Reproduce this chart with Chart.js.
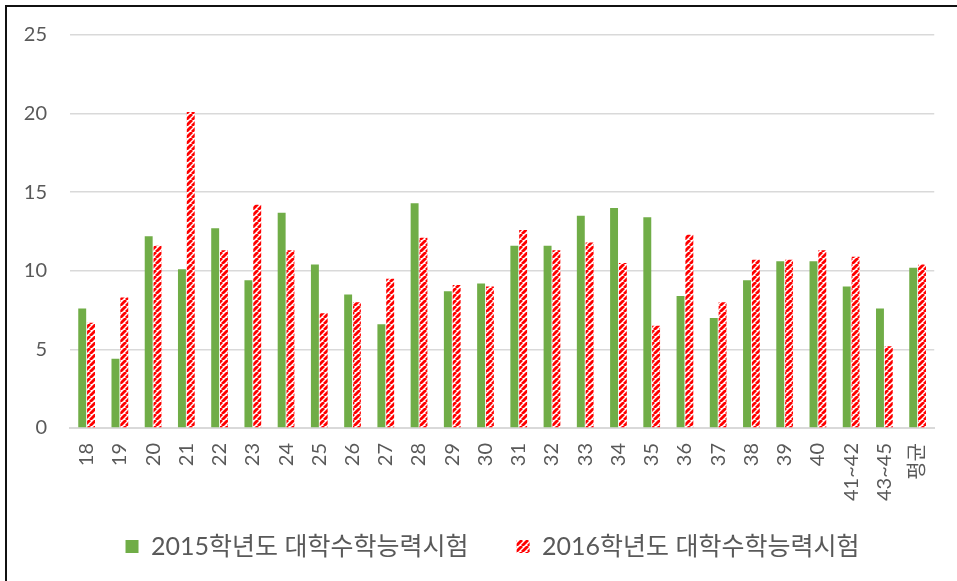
<!DOCTYPE html>
<html>
<head>
<meta charset="utf-8">
<script src="https://cdn.jsdelivr.net/npm/chart.js@4"></script>
<style>
  html, body { margin: 0; padding: 0; background: #fff; overflow: hidden; }
  #wrap { position: relative; width: 957px; height: 581px; }
  #frame { position: absolute; left: 5px; top: 5px; width: 960px; height: 590px;
           border-left: 2px solid #111; border-top: 2px solid #111; }
  #box { position: absolute; left: 0; top: 0; width: 957px; height: 569px; }
</style>
</head>
<body>
<div id="wrap">
  <div id="box"><canvas id="chart"></canvas></div>
  <div id="frame"></div>
</div>
<script>
// 데이터
const categories = ["18","19","20","21","22","23","24","25","26","27","28","29","30","31","32","33","34","35","36","37","38","39","40","41~42","43~45","평균"];
const series2015 = [7.6, 4.4, 12.2, 10.1, 12.7, 9.4, 13.7, 10.4, 8.5, 6.6, 14.3, 8.7, 9.2, 11.6, 11.6, 13.5, 14.0, 13.4, 8.4, 7.0, 9.4, 10.6, 10.6, 9.0, 7.6, 10.2];
const series2016 = [6.7, 8.3, 11.6, 20.1, 11.3, 14.2, 11.3, 7.3, 8.0, 9.5, 12.1, 9.1, 9.0, 12.6, 11.3, 11.8, 10.5, 6.5, 12.3, 8.0, 10.7, 10.7, 11.3, 10.9, 5.2, 10.4];
const label2015 = "2015학년도 대학수학능력시험";
const label2016 = "2016학년도 대학수학능력시험";
const yTicks = [0, 5, 10, 15, 20, 25];

// 빨간 사선 패턴
function makeStripe() {
  const s = 6;
  const c = document.createElement("canvas");
  c.width = s; c.height = s;
  const g = c.getContext("2d");
  g.fillStyle = "#fff";
  g.fillRect(0, 0, s, s);
  g.strokeStyle = "#ff0000";
  g.lineWidth = 2.8;
  [-s, 0, s].forEach(k => {
    g.beginPath();
    g.moveTo(k, s);
    g.lineTo(k + s, 0);
    g.stroke();
  });
  return document.createElement("canvas").getContext("2d").createPattern(c, "repeat");
}

const tickColor = "#595959";
const gridColor = "#d9d9d9";
const tickFont = { family: "Lato, 'Noto Sans CJK KR'", size: 20 };

new Chart(document.getElementById("chart"), {
  type: "bar",
  data: {
    labels: categories,
    datasets: [
      { label: label2015, data: series2015, backgroundColor: "#70ad47", borderWidth: 0 },
      { label: label2016, data: series2016, backgroundColor: makeStripe(), borderWidth: 0 }
    ]
  },
  options: {
    responsive: true,
    maintainAspectRatio: false,
    animation: false,
    layout: { padding: { top: 34, right: 20, left: 0, bottom: 0 } },
    datasets: { bar: { categoryPercentage: 0.53, barPercentage: 0.9 } },
    plugins: {
      tooltip: { enabled: false },
      legend: {
        position: "bottom",
        fullSize: false,
        labels: {
          color: tickColor,
          boxWidth: 13,
          boxHeight: 13,
          padding: 29,
          font: { family: "Lato, 'Noto Sans CJK KR'", size: 25, lineHeight: 1 },
          // 항목 사이 간격을 넓히려고 뒤에 공백을 붙인다
          generateLabels: chart => Chart.defaults.plugins.legend.labels.generateLabels(chart)
            .map(it => ({ ...it, text: it.text + "   " }))
        }
      }
    },
    scales: {
      x: {
        grid: { display: false, drawTicks: false },
        border: { display: true, color: gridColor, width: 2 },
        ticks: {
          color: tickColor,
          autoSkip: false,
          minRotation: 90,
          maxRotation: 90,
          padding: 15,
          font: tickFont
        },
        afterFit: s => { s.height = 77; }
      },
      y: {
        min: 0,
        max: 25,
        afterBuildTicks: s => { s.ticks = yTicks.map(v => ({ value: v })); },
        grid: { color: gridColor, lineWidth: 1.5, drawTicks: false },
        border: { display: false },
        ticks: {
          color: tickColor,
          padding: 23,
          font: tickFont
        },
        afterFit: s => { s.width = 70; }
      }
    }
  }
});
</script>
</body>
</html>
